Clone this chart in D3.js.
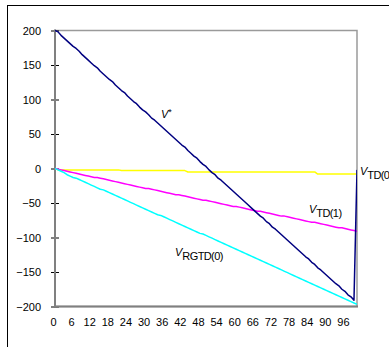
<!DOCTYPE html>
<html><head><meta charset="utf-8">
<script src="https://cdn.jsdelivr.net/npm/d3@7"></script>
<style>html,body{margin:0;padding:0;background:#fff;}svg{display:block;}</style>
</head><body>
<script>
const xTicks = [0,6,12,18,24,30,36,42,48,54,60,66,72,78,84,90,96];
const yTicks = [200,150,100,50,0,-50,-100,-150,-200];
const vStar = [200,198,193,189,185,181,177,174,170,165,161,157,153,149,146,141,137,133,129,126,121,117,113,110,105,101,97,94,89,85,82,78,73,70,66,62,58,54,50,46,42,38,34,31,26,22,18,15,10,6,3,-2,-6,-9,-14,-17,-21,-25,-29,-33,-37,-41,-45,-49,-53,-57,-61,-65,-69,-72,-77,-80,-85,-88,-92,-96,-100,-104,-108,-112,-116,-120,-124,-128,-131,-136,-139,-144,-147,-151,-155,-159,-163,-167,-170,-175,-178,-183,-186,-191,-2];
const vTD0 = [0,-2,-2,-2,-2,-2,-2,-2,-2,-2,-2,-2,-2,-2,-2,-2,-2,-2,-2,-2,-2,-2,-3,-3,-3,-3,-3,-3,-3,-3,-3,-3,-3,-3,-3,-3,-3,-3,-3,-3,-3,-3,-3,-3,-5,-5,-5,-5,-5,-5,-5,-5,-5,-5,-5,-5,-5,-5,-5,-5,-5,-5,-5,-5,-5,-5,-5,-5,-5,-5,-5,-5,-5,-5,-5,-5,-5,-5,-5,-5,-5,-5,-5,-5,-5,-5,-5,-8,-8,-8,-8,-8,-8,-8,-8,-8,-8,-8,-8,-8,-8];
const vTD1 = [0,-1,-2,-3,-4,-5,-6,-7,-8,-9,-10,-11,-12,-13,-13,-14,-15,-16,-17,-18,-19,-20,-21,-22,-23,-24,-25,-26,-27,-28,-29,-29,-30,-31,-32,-33,-34,-35,-36,-37,-38,-38,-39,-40,-41,-42,-43,-44,-45,-46,-46,-47,-48,-49,-50,-51,-52,-53,-54,-55,-55,-56,-57,-58,-59,-60,-61,-62,-62,-63,-64,-65,-66,-67,-68,-69,-69,-70,-71,-72,-73,-74,-75,-76,-77,-78,-78,-79,-80,-81,-82,-83,-84,-85,-86,-86,-87,-88,-89,-90,-91];
const vRGTD0 = [0,-2,-4,-6,-9,-11,-13,-14,-16,-18,-20,-22,-24,-26,-28,-30,-31,-33,-35,-37,-39,-41,-43,-45,-47,-49,-51,-53,-55,-57,-59,-61,-63,-65,-67,-68,-70,-72,-74,-76,-78,-80,-82,-84,-86,-88,-90,-92,-94,-95,-97,-99,-101,-103,-105,-107,-109,-111,-113,-115,-117,-119,-121,-123,-125,-127,-129,-131,-133,-135,-137,-139,-141,-143,-145,-147,-149,-151,-153,-155,-157,-159,-161,-163,-165,-167,-169,-171,-173,-175,-177,-179,-181,-183,-185,-187,-189,-191,-193,-195,-197];

const W = 389, H = 347;
const L = 55, R = 357, T = 30.5, B = 306.5;
const svg = d3.select("body").append("svg").attr("width", W).attr("height", H)
  .style("font-family", "'Liberation Sans', Arial, sans-serif");

svg.append("rect").attr("x", 7.5).attr("y", 5.5).attr("width", 420).attr("height", 420)
  .attr("fill", "none").attr("stroke", "#000").attr("stroke-width", 1);

const x = d3.scaleLinear().domain([0, 100]).range([L, R]);
const y = d3.scaleLinear().domain([-200, 200]).range([B, T]);

// plot frame
svg.append("rect").attr("x", L).attr("y", T).attr("width", R - L).attr("height", B - T)
  .attr("fill", "#fff").attr("stroke", "#9a9a9a").attr("stroke-width", 1.5);

// y axis
const yAxis = svg.append("g").attr("transform", `translate(${L},0)`)
  .call(d3.axisLeft(y).tickValues(yTicks).tickSize(4).tickPadding(7).tickFormat(d3.format("d")));
yAxis.select(".domain").remove();
yAxis.selectAll(".tick line").attr("x2", 4).attr("x1", -4).attr("stroke", "#000");
yAxis.selectAll("text").attr("font-size", 11).attr("fill", "#000")
  .attr("font-family", "'Liberation Sans', Arial, sans-serif").attr("dx", -3);

// x axis
const xAxis = svg.append("g").attr("transform", `translate(0,${B})`)
  .call(d3.axisBottom(x).tickValues(xTicks).tickSize(0).tickPadding(12));
xAxis.select(".domain").remove();
xAxis.selectAll("text").attr("font-size", 11).attr("fill", "#000")
  .attr("font-family", "'Liberation Sans', Arial, sans-serif").attr("dx", -2);

svg.append("line").attr("x1", L).attr("x2", L).attr("y1", T - 1).attr("y2", B + 1)
  .attr("stroke", "#808080").attr("stroke-width", 2);
svg.append("line").attr("x1", L).attr("x2", R + 1).attr("y1", B).attr("y2", B)
  .attr("stroke", "#808080").attr("stroke-width", 2);

const line = d3.line().x((d, i) => x(i)).y(d => y(d));
const series = [
  {data: vTD0, color: "#ffff00"},
  {data: vTD1, color: "#ff00ff"},
  {data: vRGTD0, color: "#00ffff"},
  {data: vStar, color: "#000080"}
];
svg.append("defs").append("clipPath").attr("id", "clip")
  .append("rect").attr("x", L).attr("y", T - 2).attr("width", R - L).attr("height", B - T + 4);
const g = svg.append("g").attr("clip-path", "url(#clip)");
series.forEach(s => {
  g.append("path").datum(s.data).attr("d", line).attr("fill", "none")
    .attr("stroke", s.color).attr("stroke-width", 1.5).attr("stroke-linejoin", "round");
});

function label(xp, yp, sub, sup) {
  const t = svg.append("text").attr("x", xp).attr("y", yp).attr("font-size", 11).attr("fill", "#000");
  t.append("tspan").text("V").attr("font-style", "italic");
  if (sup) t.append("tspan").text(sup).attr("dy", -3).attr("font-size", 9);
  if (sub) t.append("tspan").text(sub).attr("dy", 4).attr("letter-spacing", -0.6);
}
label(161, 118, null, "*");
label(309, 213, "TD(1)");
label(175, 256, "RGTD(0)");
label(360, 175, "TD(0)");
</script>
</body></html>
